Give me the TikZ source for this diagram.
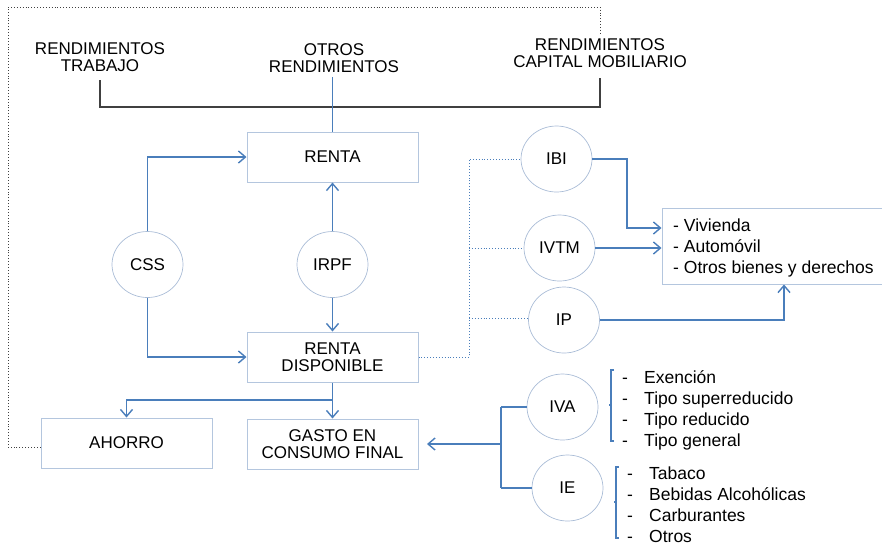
\documentclass[tikz,border=0pt]{standalone}
\usepackage{fontspec}
\setmainfont{Liberation Sans}
\usetikzlibrary{arrows.meta,shapes.geometric}
\definecolor{cblue}{HTML}{4A7EBB}
\definecolor{boxc}{HTML}{B4C6DE}
\definecolor{ellc}{HTML}{A9BCD6}
\definecolor{darkc}{HTML}{404040}
\tikzset{
  box/.style={draw=boxc,line width=1pt,rectangle,minimum width=171pt,minimum height=50pt,inner sep=0pt,align=center,font=\fontsize{17}{16.5}\selectfont},
  ell/.style={draw=ellc,line width=0.7pt,ellipse,minimum width=71pt,minimum height=66pt,inner sep=0pt,font=\fontsize{17}{17}\selectfont},
  toptxt/.style={align=center,inner sep=0pt,font=\fontsize{17}{17}\selectfont},
  con/.style={draw=cblue,line width=1.4pt},
  arr/.style={con,-{Straight Barb[length=7pt,width=12pt]}},
  dotb/.style={draw=cblue,line width=0.9pt,dotted},
  dotk/.style={draw=darkc,line width=0.9pt,dotted},
  brk/.style={draw=darkc,line width=1.3pt},
  lbr/.style={draw=cblue,line width=1.1pt},
  listtxt/.style={anchor=west,inner sep=0pt,text height=13pt,text depth=2.5pt,font=\fontsize{17.5}{21}\selectfont}
}
\begin{document}
\begin{tikzpicture}[x=1pt,y=-1pt]
\useasboundingbox (0,0) rectangle (882,547);
% top texts
\node[toptxt] (rt) at (100,57.5) {RENDIMIENTOS\\TRABAJO};
\node[toptxt] (or) at (334,58) {OTROS\\RENDIMIENTOS};
\node[toptxt] (rcm) at (600,53.5) {RENDIMIENTOS\\CAPITAL MOBILIARIO};
% boxes
\node[box] (renta) at (332.5,157) {RENTA};
\node[box] (rd) at (332.5,357) {RENTA\\DISPONIBLE};
\node[box] (ahorro) at (126.5,443) {AHORRO};
\node[box] (gasto) at (332.5,444) {GASTO EN\\CONSUMO FINAL};
\node[draw=boxc,line width=1pt,rectangle,minimum width=223pt,minimum height=76pt,inner sep=0pt] (bienes) at (773.5,246) {};
\node[anchor=west,inner sep=0pt,align=left,font=\fontsize{17.5}{21}\selectfont] (btxt) at (673,248) {- Vivienda\\- Automóvil\\- Otros bienes y derechos};
% ellipses
\node[ell] (css) at (147.5,264.5) {CSS};
\node[ell] (irpf) at (332.5,264.5) {IRPF};
\node[ell] (ibi) at (556.5,159) {IBI};
\node[ell] (ivtm) at (559.5,248) {IVTM};
\node[ell] (ip) at (564,320) {IP};
\node[ell] (iva) at (562.5,407) {IVA};
\node[ell] (ie) at (567.5,488) {IE};
% coordinates
\coordinate (b1) at (100,80);
\coordinate (b2) at (100,107);
\coordinate (b3) at (600,107);
\coordinate (b4) at (600,78);
\coordinate (o1) at (332.5,77);
\coordinate (d1) at (8,447);
\coordinate (d2) at (8,7);
\coordinate (d3) at (600,7);
\coordinate (d4) at (600,33);
\coordinate (j0) at (469,357);
\coordinate (j1) at (469,159);
\coordinate (j2) at (469,248);
\coordinate (j3) at (469,318);
\coordinate (k1) at (627,159);
\coordinate (k2) at (784,320);
\coordinate (g0) at (501,444);
\coordinate (g1) at (501,407);
\coordinate (g2) at (501,488);
\coordinate (gt) at (427,444);
\coordinate (s1) at (332.5,400);
% top bracket
\draw[brk] (b1) -- (b2) -- (b3) -- (b4);
\draw[con] (o1) -- (renta.north);
% outer dotted loop
\draw[dotk] ([yshift=-4pt]ahorro.west) -- (d1) -- (d2) -- (d3) -- (d4);
% CSS / IRPF
\draw[arr] (css.north) |- (renta.west);
\draw[arr] (css.south) |- (rd.west);
\draw[arr] (irpf.north) -- (renta.south);
\draw[arr] (irpf.south) -- (rd.north);
% split
\draw[arr] (rd.south) -- (gasto.north);
\draw[arr] (s1) -| (ahorro.north);
% dotted tree
\draw[dotb] (rd.east) -- (j0) -- (j1) -- (ibi.west);
\draw[dotb] (j2) -- (ivtm.west);
\draw[dotb] (j3) -- (j3 -| ip.west);
% to bienes
\draw[arr] (ibi.east) -- (k1) |- ([yshift=18pt]bienes.west);
\draw[arr] (ivtm.east) -- (bienes.west |- ivtm.east);
\draw[arr] (ip.east) -- (k2) -- (bienes.south -| k2);
% consumption taxes
\draw[arr] (g0) -- (gt);
\draw[con] (g1) -- (g2);
\draw[con] (g1) -- (iva.west);
\draw[con] (g2) -- (ie.west);
% list brackets
\draw[lbr] (614,370) -- (611,370) -- (611,441) -- (614,441);
\draw[lbr] (611,405) -- (609,405);
\draw[lbr] (619,467) -- (616,467) -- (616,538) -- (619,538);
\draw[lbr] (616,502) -- (614,502);
% lists
\node[listtxt] (va1) at (622,378) {-};
\node[listtxt] (va2) at (622,399) {-};
\node[listtxt] (va3) at (622,420) {-};
\node[listtxt] (va4) at (622,441) {-};
\node[listtxt] (vt1) at (644,378) {Exención};
\node[listtxt] (vt2) at (644,399) {Tipo superreducido};
\node[listtxt] (vt3) at (644,420) {Tipo reducido};
\node[listtxt] (vt4) at (644,441) {Tipo general};
\node[listtxt] (ea1) at (627,474) {-};
\node[listtxt] (ea2) at (627,495) {-};
\node[listtxt] (ea3) at (627,516) {-};
\node[listtxt] (ea4) at (627,537) {-};
\node[listtxt] (et1) at (649,474) {Tabaco};
\node[listtxt] (et2) at (649,495) {Bebidas Alcohólicas};
\node[listtxt] (et3) at (649,516) {Carburantes};
\node[listtxt] (et4) at (649,537) {Otros};
\end{tikzpicture}
\end{document}
